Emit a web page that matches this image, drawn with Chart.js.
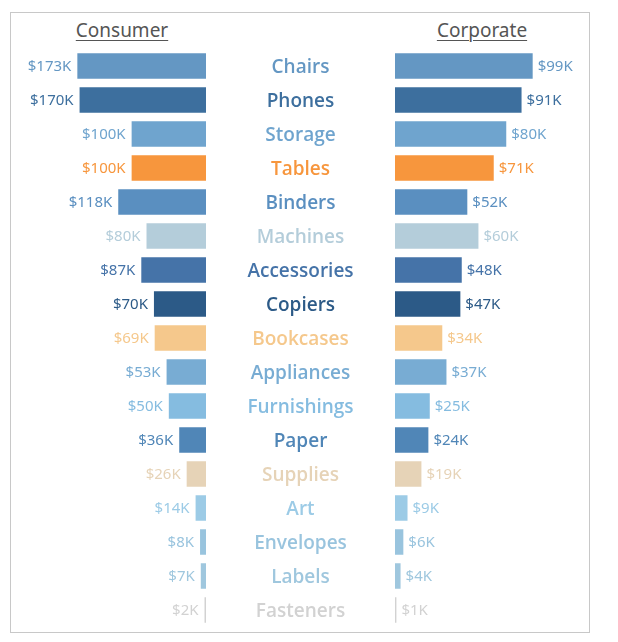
<!DOCTYPE html>
<html>
<head>
<meta charset="utf-8">
<script src="https://cdn.jsdelivr.net/npm/chart.js@4.4.1/dist/chart.umd.min.js"></script>
<style>
  html, body { margin: 0; padding: 0; background: #fff; }
  body { width: 618px; height: 642px; position: relative; overflow: hidden; font-family: "Noto Sans", sans-serif; }
  #frame { position: absolute; left: 10px; top: 12px; width: 578px; height: 619px; border: 1px solid #c8c8c8; }
  .title { position: absolute; top: 17px; width: 200px; text-align: center; font-size: 19px; color: #555; text-decoration: underline; text-underline-offset: 3px; text-decoration-thickness: 1px; }
  canvas { position: absolute; }
</style>
</head>
<body>
<div id="frame"></div>
<div class="title" style="left:22px">Consumer</div>
<div class="title" style="left:382px">Corporate</div>
<canvas id="leftChart" style="left:0px; top:49px; width:206px; height:578px"></canvas>
<canvas id="rightChart" style="left:206px; top:49px; width:383px; height:578px"></canvas>
<script>
// Sales by sub-category, in thousands of dollars
const categories = ['Chairs', 'Phones', 'Storage', 'Tables', 'Binders', 'Machines', 'Accessories', 'Copiers',
  'Bookcases', 'Appliances', 'Furnishings', 'Paper', 'Supplies', 'Art', 'Envelopes', 'Labels', 'Fasteners'];
const consumerSales = [173, 170, 100, 100, 118, 80, 87, 70, 69, 53, 50, 36, 26, 14, 8, 7, 2];
const corporateSales = [99, 91, 80, 71, 52, 60, 48, 47, 34, 37, 25, 24, 19, 9, 6, 4, 1];
const barColors = ['#6497c3', '#3d6f9e', '#6fa4ce', '#f7963d', '#5a8fc0', '#b4cdda', '#4573a8', '#2c5a87',
  '#f5c88c', '#78acd3', '#85bce0', '#5086b7', '#e6d3b7', '#9ccbe6', '#99c4de', '#9fc7de', '#d2d2d2'];

const labelFont = { family: '"Open Sans", "Noto Sans", sans-serif', size: 19, weight: '600' };

// étiquettes de valeur au bout des barres
const valueLabels = {
  id: 'valueLabels',
  afterDatasetsDraw(chart) {
    const c = chart.ctx;
    const side = chart.options.plugins.valueLabels.side;
    const meta = chart.getDatasetMeta(0);
    c.save();
    c.font = '15px "Noto Sans", sans-serif';
    c.textBaseline = 'middle';
    meta.data.forEach((bar, i) => {
      const v = chart.data.datasets[0].data[i];
      c.fillStyle = barColors[i];
      if (side === 'left') {
        c.textAlign = 'right';
        c.fillText('$' + v + 'K', bar.x - 6, bar.y + 1);
      } else {
        c.textAlign = 'left';
        c.fillText('$' + v + 'K', bar.x + 5, bar.y + 1);
      }
    });
    c.restore();
  }
};

function baseOptions(max, reverse, side) {
  return {
    indexAxis: 'y',
    responsive: false,
    animation: false,
    layout: { padding: 0 },
    scales: {
      x: { display: false, min: 0, max: max, reverse: reverse },
      y: { display: false }
    },
    plugins: { legend: { display: false }, tooltip: { enabled: false }, valueLabels: { side: side } }
  };
}

function makeDataset(values) {
  return {
    labels: categories,
    datasets: [{ data: values, backgroundColor: barColors, barPercentage: 0.75, categoryPercentage: 1 }]
  };
}

// Consumer (barres vers la gauche)
new Chart(document.getElementById('leftChart'), {
  type: 'bar',
  data: makeDataset(consumerSales),
  options: baseOptions(277, true, 'left'),
  plugins: [valueLabels]
});

// largeur du libellé le plus long, pour centrer la colonne des catégories
const m = document.createElement('canvas').getContext('2d');
m.font = labelFont.weight + ' ' + labelFont.size + 'px ' + labelFont.family;
const widest = Math.max(...categories.map(t => m.measureText(t).width));
const axisWidth = 189;

const rightOpts = baseOptions(139.5, false, 'right');
rightOpts.scales.y = {
  display: true,
  grid: { display: false, drawTicks: false },
  border: { display: false },
  ticks: {
    color: (ctx) => barColors[ctx.index],
    font: labelFont,
    crossAlign: 'center',
    labelOffset: 2,
    padding: Math.max(0, axisWidth / 2 - widest / 2)
  },
  afterFit(scale) {
    scale.width = axisWidth;
    // pas de marge verticale : les rangées restent alignées avec la gauche
    scale.paddingTop = 0;
    scale.paddingBottom = 0;
  }
};

// Corporate + colonne des catégories
new Chart(document.getElementById('rightChart'), {
  type: 'bar',
  data: makeDataset(corporateSales),
  options: rightOpts,
  plugins: [valueLabels]
});
</script>
</body>
</html>
